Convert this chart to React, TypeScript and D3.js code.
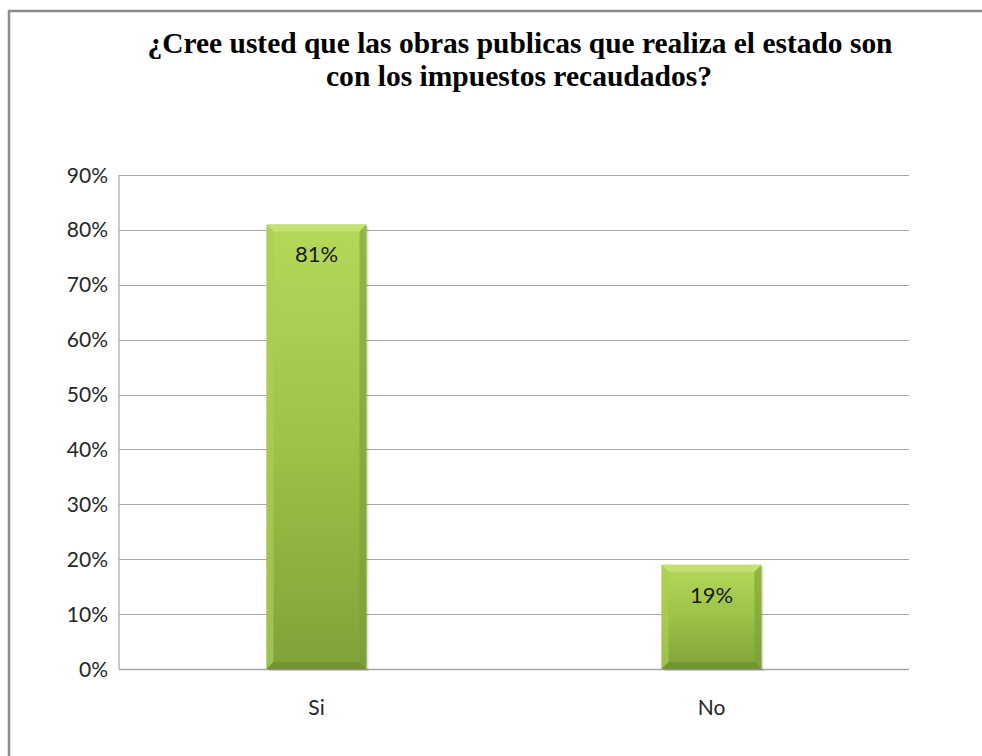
import * as React from 'react';
import { scaleBand, scaleLinear } from 'd3';

const categories = ['Si', 'No'];
const values = [0.81, 0.19];
const valueLabels = ['81%', '19%'];
const yTicks = [0, 0.1, 0.2, 0.3, 0.4, 0.5, 0.6, 0.7, 0.8, 0.9];
const titleLines = [
  '¿Cree usted que las obras publicas que realiza  el estado son',
  'con los impuestos recaudados?',
];

const W = 982;
const H = 756;
const plot = { left: 119, right: 909, top: 175, bottom: 669 };
const labelFont = "Lato, 'Open Sans', sans-serif";

export default function App() {
  const x = scaleBand<string>().domain(categories).range([plot.left, plot.right]).paddingInner(0.747).paddingOuter(0.3735);
  const y = scaleLinear().domain([0, 0.9]).range([plot.bottom, plot.top]);
  const bw = x.bandwidth();
  const bevel = 7;

  return (
    <div style={{ position: 'absolute', left: 0, top: 0 }}>
      <svg width={W} height={H} style={{ display: 'block', background: '#fff' }}>
        <defs>
          <linearGradient id="barFill" x1="0" y1="0" x2="0" y2="1">
            <stop offset="0" stopColor="#b4d85a" />
            <stop offset="0.5" stopColor="#9cc246" />
            <stop offset="1" stopColor="#7fa23a" />
          </linearGradient>
        </defs>

        {/* chart frame: only top and left edges are visible */}
        <path d={`M9,${H} L9,11 L${W},11`} fill="none" stroke="#8c8c8c" strokeWidth={2.5} />

        {/* title (condensed bold serif) */}
        <g fontFamily="'Liberation Serif', 'Times New Roman', serif" fontWeight="bold" fontSize={30} fill="#000" textAnchor="middle">
          <text x={520} y={53} textLength={745} lengthAdjust="spacingAndGlyphs">{titleLines[0]}</text>
          <text x={519} y={86} textLength={386} lengthAdjust="spacingAndGlyphs">{titleLines[1]}</text>
        </g>

        {/* gridlines */}
        {yTicks.slice(1).map(t => (
          <line key={t} x1={plot.left} x2={plot.right} y1={Math.round(y(t)) + 0.5} y2={Math.round(y(t)) + 0.5} stroke="#a6a6a6" strokeWidth={1.2} />
        ))}
        <line x1={plot.left} x2={plot.left} y1={plot.top} y2={plot.bottom} stroke="#a6a6a6" strokeWidth={1.2} />
        <line x1={plot.left} x2={plot.right} y1={plot.bottom + 0.5} y2={plot.bottom + 0.5} stroke="#a6a6a6" strokeWidth={1.5} />

        {/* y tick labels */}
        <g fontFamily={labelFont} fontSize={21} fill="#262626" textAnchor="end">
          {yTicks.map(t => (
            <text key={t} x={108} y={y(t) + 7.5}>{`${Math.round(t * 100)}%`}</text>
          ))}
        </g>

        {/* bars */}
        {categories.map((c, i) => {
          const x0 = x(c)!;
          const x1 = x0 + bw;
          const y0 = y(values[i]);
          const y1 = y(0);
          return (
            <g key={c}>
              <rect x={x0 + 2} y={y0 + 2} width={bw} height={y1 - y0} fill="#000" opacity={0.12} />
              <rect x={x0} y={y0} width={bw} height={y1 - y0} fill="url(#barFill)" />
              <polygon points={`${x0},${y0} ${x1},${y0} ${x1 - bevel},${y0 + bevel} ${x0 + bevel},${y0 + bevel}`} fill="#c8e47a" opacity={0.8} />
              <polygon points={`${x0},${y0} ${x0 + bevel},${y0 + bevel} ${x0 + bevel},${y1 - bevel} ${x0},${y1}`} fill="#a9cf52" opacity={0.7} />
              <polygon points={`${x1},${y0} ${x1 - bevel},${y0 + bevel} ${x1 - bevel},${y1 - bevel} ${x1},${y1}`} fill="#7c9e36" opacity={0.6} />
              <polygon points={`${x0},${y1} ${x0 + bevel},${y1 - bevel} ${x1 - bevel},${y1 - bevel} ${x1},${y1}`} fill="#6e8e2e" opacity={0.7} />
              <text x={x0 + bw / 2} y={y0 + 38} textAnchor="middle" fontFamily={labelFont} fontSize={22} fill="#1a1a1a">{valueLabels[i]}</text>
            </g>
          );
        })}

        {/* category labels */}
        <g fontFamily={labelFont} fontSize={21} fill="#262626" textAnchor="middle">
          {categories.map(c => (
            <text key={c} x={x(c)! + bw / 2} y={715}>{c}</text>
          ))}
        </g>
      </svg>
    </div>
  );
}
